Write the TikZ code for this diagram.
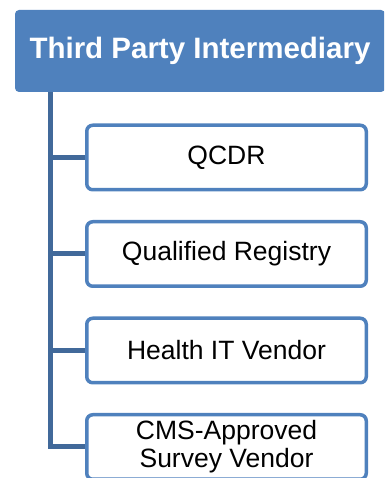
\documentclass[tikz,border=0pt]{standalone}
\usepackage{fontspec}
\setmainfont{Liberation Sans}
\usetikzlibrary{backgrounds}
\definecolor{boxblue}{HTML}{4F81BD}
\definecolor{connblue}{HTML}{41699A}
\begin{document}
\begin{tikzpicture}[x=1pt,y=1pt,
  titlebox/.style={fill=boxblue, rounded corners=4pt, minimum width=370pt, minimum height=82pt, inner sep=0pt, outer sep=0pt, text=white, font=\fontsize{29.5}{34}\selectfont\bfseries},
  itembox/.style={draw=boxblue, line width=3.5pt, fill=white, rounded corners=6pt, minimum width=279.5pt, minimum height=64.5pt, inner sep=0pt, outer sep=0pt, align=center, font=\fontsize{26.5}{28}\selectfont},
  conn/.style={draw=connblue, line width=5pt}]
\useasboundingbox (0,0) rectangle (384,478);
\clip (0,0) rectangle (384,478);
\node[titlebox] (top) at (200,427) {Third Party Intermediary};
\coordinate (trunk) at (50,386);
\node[itembox] (b1) at (226.5,320.5) {QCDR};
\node[itembox] (b2) at (226.5,224) {Qualified Registry};
\node[itembox] (b3) at (226.5,127.5) {Health IT Vendor};
\node[itembox] (b4) at (226.5,31) {CMS-Approved\\Survey Vendor};
\begin{scope}[on background layer]
\draw[conn] (trunk) |- (b4.west);
\draw[conn] (trunk) |- (b3.west);
\draw[conn] (trunk) |- (b2.west);
\draw[conn] (trunk) |- (b1.west);
\end{scope}
\end{tikzpicture}
\end{document}
